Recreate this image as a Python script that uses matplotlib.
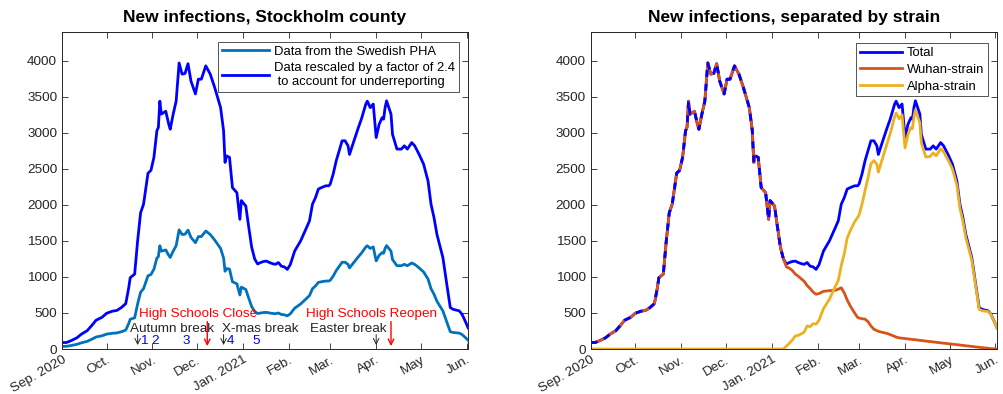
import numpy as np
import matplotlib
matplotlib.use('Agg')
import matplotlib.pyplot as plt

plt.rcParams['font.family'] = ['Liberation Sans', 'DejaVu Sans']

# days since 1 Sep 2020
days = [0, 3, 6, 10, 13, 17, 20, 23, 27, 30, 34, 37, 40, 43, 45, 46, 49, 51, 53, 55,
        58, 60, 62, 64, 65, 66, 67, 70, 72, 73, 75, 77, 79, 81, 83, 85, 87, 90, 92, 94,
        97, 100, 103, 107, 109, 110, 111, 113, 115, 118, 120, 121, 124, 126, 128, 130,
        132, 134, 136, 138, 140, 142, 144, 146, 148, 150, 152, 154, 157, 161, 165, 167,
        169, 171, 173, 175, 178, 180, 181, 183, 185, 187, 189, 191, 193, 194, 197, 200,
        202, 205, 206, 208, 210, 212, 214, 216, 217, 218, 219, 222, 223, 226, 229, 231,
        233, 236, 238, 241, 244, 247, 249, 251, 253, 257, 260, 262, 264, 268, 270, 272, 274]

# rescaled (total) new infections
total = [90, 90, 115, 155, 205, 255, 325, 400, 440, 495, 525, 535, 575, 630, 850, 990, 1040, 1500, 1890, 2010,
         2440, 2480, 2660, 3030, 3075, 3440, 3260, 3300, 3120, 3050, 3260, 3440, 3970, 3815, 3825, 3960, 3720, 3540, 3745, 3745,
         3930, 3815, 3630, 3350, 3030, 2590, 2680, 2660, 2240, 2170, 1800, 2060, 1985, 1690, 1410, 1250,
         1180, 1200, 1215, 1220, 1200, 1185, 1175, 1200, 1150, 1140, 1105, 1170, 1360, 1500, 1685, 1780,
         2010, 2100, 2220, 2240, 2265, 2265, 2290, 2430, 2610, 2750, 2890, 2890, 2820, 2700, 2890, 3075,
         3190, 3400, 3440, 3350, 3400, 2935, 3120, 3210, 3190, 3350, 3445, 3260, 2980, 2775, 2775, 2820,
         2775, 2865, 2820, 2700, 2565, 2330, 2010, 1825, 1590, 1270, 850, 575, 550, 530, 480, 390, 295]

# Wuhan strain after it splits from the total (from day 132)
wuhan_tail = [1140, 1120, 1090, 1040, 1010, 975, 940, 880, 840, 790, 760, 770, 800, 810, 815, 830,
              850, 780, 680, 600, 500, 440, 430, 420, 415, 380, 320, 275, 255, 245, 230, 215,
              200, 175, 165, 155, 150, 145, 140, 135, 132, 130, 128, 120, 118, 110, 103, 98,
              93, 86, 81, 74, 67, 60, 55, 50, 45, 36, 28, 24, 19, 10, 5, 2, 0]

factor = 2.4

month_ticks = ['2020-09-01', '2020-10-01', '2020-11-01', '2020-12-01', '2021-01-01',
               '2021-02-01', '2021-03-01', '2021-04-01', '2021-05-01', '2021-06-01']
month_labels = ['Sep. 2020', 'Oct.', 'Nov.', 'Dec.', 'Jan. 2021', 'Feb.', 'Mar.', 'Apr.', 'May', 'Jun.']

# school events (day, label)
red_events = [(98.5, 'High Schools Close'), (222.5, 'High Schools Reopen')]
red_text_x = [92, 209]
black_events = [(51, 'Autumn break'), (109.5, 'X-mas break'), (212.5, 'Easter break')]
black_text_x = [74, 134.5, 193.5]
period_days = [55.5, 63, 84.5, 114.8, 131]
period_labels = ['1', '2', '3', '4', '5']


def to_dates(d):
    return np.datetime64('2020-09-01') + np.array(d).astype('timedelta64[D]')


def style_axes(ax, title):
    ax.set_xlim(to_dates([0])[0], to_dates([274.5])[0])
    ax.set_ylim(0, 4400)
    ax.set_yticks(np.arange(0, 4001, 500))
    ax.set_xticks(np.array(month_ticks, dtype='datetime64[D]'))
    ax.set_xticklabels(month_labels, rotation=30, ha='right', rotation_mode='anchor')
    ax.tick_params(direction='in', top=True, right=True, labelsize=9.7,
                   colors='#262626', length=4, width=0.6)
    for s in ax.spines.values():
        s.set_color('#262626')
        s.set_linewidth(0.7)
    ax.set_title(title, fontsize=12.5, fontweight='bold', pad=7)


def main():
    fig = plt.figure(figsize=(10.04, 3.94), dpi=100)
    ax1 = fig.add_axes([0.0618, 0.1142, 0.4044, 0.8046])
    ax2 = fig.add_axes([0.5883, 0.1142, 0.4047, 0.8046])

    x = to_dates(days)
    tot = np.array(total, dtype=float)
    pha = tot / factor

    # left panel
    ax1.plot(x, pha, color='#0072BD', lw=2, label='Data from the Swedish PHA')
    ax1.plot(x, tot, color='#0000FF', lw=2,
             label='Data rescaled by a factor of 2.4\n to account for underreporting')
    style_axes(ax1, 'New infections, Stockholm county')
    leg = ax1.legend(loc='upper right', fontsize=9.4, frameon=True, fancybox=False,
                     edgecolor='#262626', borderpad=0.3, handlelength=3.6,
                     handletextpad=0.4, labelspacing=0.35, borderaxespad=0,
                     bbox_to_anchor=(0.978, 0.97))
    leg.get_frame().set_linewidth(0.7)

    for (d, t), tx in zip(red_events, red_text_x):
        ax1.text(to_dates([tx])[0], 490, t, color='#FF0000', fontsize=9.7, ha='center', va='center')
        ax1.annotate('', xy=(to_dates([d])[0], 40), xytext=(to_dates([d])[0], 380),
                     arrowprops=dict(arrowstyle='->', color='#FF0000', lw=1, shrinkA=0, shrinkB=0))
    for (d, t), tx in zip(black_events, black_text_x):
        ax1.text(to_dates([tx])[0], 280, t, color='#262626', fontsize=9.7, ha='center', va='center')
        ax1.annotate('', xy=(to_dates([d])[0], 55), xytext=(to_dates([d])[0], 200),
                     arrowprops=dict(arrowstyle='->', color='#262626', lw=0.7, shrinkA=0, shrinkB=0))
    for d, t in zip(period_days, period_labels):
        ax1.text(to_dates([d])[0], 105, t, color='#0000FF', fontsize=9.7, ha='center', va='center')

    # right panel
    k = days.index(130)
    wuhan = np.array(total[:k + 1] + wuhan_tail, dtype=float)
    alpha = tot - wuhan

    ax2.plot(x, tot, color='#0000FF', lw=2, label='Total')
    ax2.plot(x, wuhan, color='#D95319', lw=2, label='Wuhan-strain')
    ax2.plot(x, alpha, color='#EDB120', lw=2, label='Alpha-strain')
    # overlapping part shows both colours
    ax2.plot(x[:k + 1], tot[:k + 1], color='#0000FF', lw=2, ls=(0, (2.5, 2.5)))
    style_axes(ax2, 'New infections, separated by strain')
    leg2 = ax2.legend(loc='upper right', fontsize=9.4, frameon=True, fancybox=False,
                      edgecolor='#262626', borderpad=0.3, handlelength=3.2,
                      handletextpad=0.35, labelspacing=0.35, borderaxespad=0,
                      bbox_to_anchor=(0.978, 0.965))
    leg2.get_frame().set_linewidth(0.7)

    fig.savefig('out.png', dpi=100)


main()
